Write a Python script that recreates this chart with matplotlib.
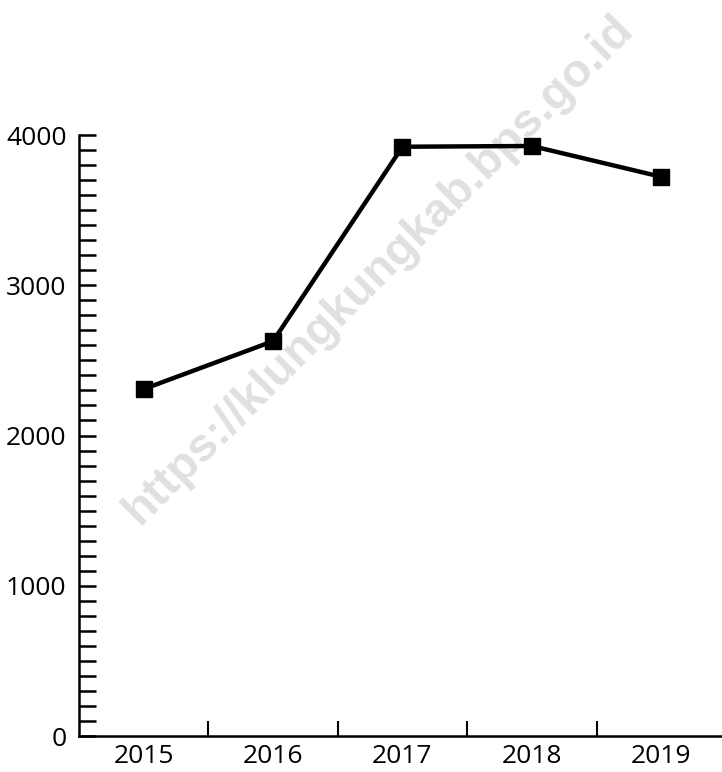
import numpy as np
import matplotlib
matplotlib.use("Agg")
import matplotlib.pyplot as plt
from matplotlib.ticker import MultipleLocator, FixedLocator

tahun = ["2015", "2016", "2017", "2018", "2019"]
nilai = [2309, 2628, 3922, 3927, 3722]
y_ticks = [0, 1000, 2000, 3000, 4000]

plt.rcParams['font.family'] = ['Open Sans', 'DejaVu Sans']

fig = plt.figure(figsize=(7.22, 7.72), dpi=100)
ax = fig.add_axes([0.1094, 0.0466, 0.896, 0.7785])
ax.patch.set_alpha(0)

x = np.arange(len(tahun))
ax.plot(x, nilai, color='black', linewidth=3.2, marker='s', markersize=12,
        clip_on=False, zorder=3)

ax.set_xlim(-0.5, len(tahun) - 0.5)
ax.set_ylim(0, 4000)

ax.set_xticks(x)
ax.set_xticklabels(tahun)
ax.xaxis.set_minor_locator(FixedLocator(np.arange(0.5, len(tahun) - 0.5, 1)))
ax.set_yticks(y_ticks)
ax.yaxis.set_minor_locator(MultipleLocator(100))

ax.tick_params(axis='x', which='major', length=0, pad=6, labelsize=19)
ax.tick_params(axis='x', which='minor', direction='in', length=10.5, width=1.5)
ax.tick_params(axis='y', which='both', direction='in', length=12, width=1.8,
               labelsize=19, pad=9)

for s in ['top', 'right']:
    ax.spines[s].set_visible(False)
for s in ['left', 'bottom']:
    ax.spines[s].set_linewidth(1.8)

# watermark
fig.text(0.525, 0.65, "https://klungkungkab.bps.go.id", rotation=45,
         ha='center', va='center', fontsize=34, fontweight='bold',
         color='#e0e0e0', family=['Liberation Sans', 'DejaVu Sans'], zorder=-1)

fig.savefig("out.png", dpi=100)
